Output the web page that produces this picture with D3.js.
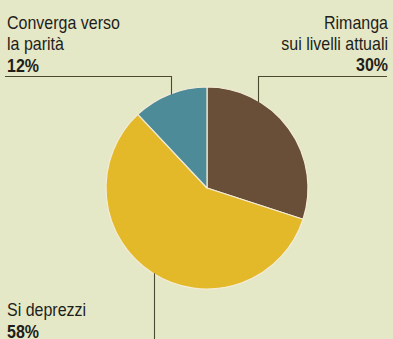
<!DOCTYPE html>
<html>
<head>
<meta charset="utf-8">
<script src="https://cdn.jsdelivr.net/npm/d3@7"></script>
<style>
  html, body { margin: 0; padding: 0; background: #e5e8c7; }
  svg { display: block; }
  text { font-family: "Liberation Sans", Arial, Helvetica, sans-serif; fill: #1e1e1a; }
</style>
</head>
<body>
<svg id="chart" width="393" height="339"></svg>
<script>
// Opinion shares, clockwise from 12 o'clock
const categories = ["Rimanga sui livelli attuali", "Si deprezzi", "Converga verso la parità"];
const values = [30, 58, 12];
const colors = ["#6a4f38", "#e3b92a", "#4e8b99"];
const labelLines = [
  ["Rimanga", "sui livelli attuali"],
  ["Si deprezzi"],
  ["Converga verso", "la parità"]
];
const percentLabels = ["30%", "58%", "12%"];

const W = 393, H = 339;
const cx = 207, cy = 188, R = 101;

const svg = d3.select("#chart");

const pie = d3.pie().sort(null).value(d => d)(values);
const arc = d3.arc().innerRadius(0).outerRadius(R);

const g = svg.append("g").attr("transform", `translate(${cx},${cy})`);
g.selectAll("path.slice")
  .data(pie)
  .join("path")
  .attr("class", "slice")
  .attr("d", arc)
  .attr("fill", (d, i) => colors[i])
  .attr("stroke", "#f3ecd6")
  .attr("stroke-width", 1.2)
  .attr("stroke-linejoin", "round");

// Leader lines: elbow from label rule down to the rim
const lineColor = "#4b4a30";
function rimY(x) { const dx = x - cx; return cy - Math.sqrt(R * R - dx * dx); }
function rimYBottom(x) { const dx = x - cx; return cy + Math.sqrt(R * R - dx * dx); }

const leaders = svg.append("g").attr("fill", "none").attr("stroke", lineColor).attr("stroke-width", 1.1);
leaders.append("path").attr("d", `M387,76.5 H258.5 V${rimY(258.5) + 1}`);
leaders.append("path").attr("d", `M5,76.5 H171.5 V${rimY(171.5) + 1}`);
leaders.append("path").attr("d", `M154.5,${rimYBottom(154.5) - 1} V${H}`);

// Condensed type: horizontal squeeze so the widest line fits its column
const fs = 19, lh = 21;
const probe = svg.append("text").attr("font-size", fs).text("Converga verso");
const k = 113 / probe.node().getComputedTextLength();
probe.remove();

function label(x, y, txt, anchor, bold) {
  svg.append("g").attr("transform", `translate(${x},${y}) scale(${k},1)`)
    .append("text")
    .attr("font-size", fs)
    .attr("text-anchor", anchor)
    .attr("font-weight", bold ? "bold" : null)
    .text(txt);
}

// Right label
labelLines[0].forEach((t, i) => label(388, 29 + i * lh, t, "end", false));
label(388, 71, percentLabels[0], "end", true);

// Left label
labelLines[2].forEach((t, i) => label(7, 29 + i * lh, t, "start", false));
label(7, 72, percentLabels[2], "start", true);

// Bottom label
label(7, 316, labelLines[1][0], "start", false);
label(7, 338, percentLabels[1], "start", true);
</script>
</body>
</html>
